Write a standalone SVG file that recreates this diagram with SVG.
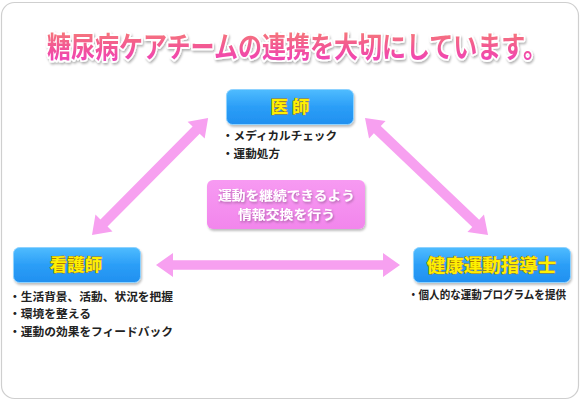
<svg xmlns="http://www.w3.org/2000/svg" width="581" height="402" viewBox="0 0 581 402">
<defs>
<linearGradient id="titleGrad" x1="0" y1="0" x2="0" y2="1">
<stop offset="0" stop-color="#f7866e"/>
<stop offset="0.55" stop-color="#f25596"/>
<stop offset="1" stop-color="#f03cc8"/>
</linearGradient>
<linearGradient id="blueGrad" x1="0" y1="0" x2="0" y2="1">
<stop offset="0" stop-color="#4fbcff"/>
<stop offset="0.5" stop-color="#2b9ef7"/>
<stop offset="1" stop-color="#2190f0"/>
</linearGradient>
<linearGradient id="pinkGrad" x1="0" y1="0" x2="0" y2="1">
<stop offset="0" stop-color="#f79af2"/>
<stop offset="1" stop-color="#f286ec"/>
</linearGradient>
<filter id="shadow" x="-10%" y="-10%" width="130%" height="140%">
<feDropShadow dx="1" dy="2" stdDeviation="1.2" flood-color="#000" flood-opacity="0.25"/>
</filter>
<filter id="tshadow" x="-5%" y="-20%" width="110%" height="160%">
<feDropShadow dx="1" dy="1.5" stdDeviation="1" flood-color="#000" flood-opacity="0.3"/>
</filter>
</defs>
<style>
.t{font-family:"Noto Sans CJK JP","Noto Sans CJK SC",sans-serif}
.title{font-size:23.2px;font-weight:700;fill:url(#titleGrad);stroke:#fff;stroke-width:3;paint-order:stroke;stroke-linejoin:round}
.bluebox{fill:url(#blueGrad);stroke:#8ed2ff;stroke-width:1}
.role{font-weight:700;fill:#fff000;stroke:#b07800;stroke-width:0.8;paint-order:stroke;text-anchor:middle}
.bul{font-size:11.6px;font-weight:700;fill:#222}
.mid{font-size:12.8px;font-weight:700;fill:#fff;text-anchor:middle}
.arrow{fill:#f7a0f0}
</style>
<rect x="1.5" y="2.5" width="577" height="396" rx="13" fill="#fff" stroke="#cfcfcf" stroke-width="1.2"/>
<g id="title">
<text class="t title" transform="translate(47,58) scale(1,1.25)" x="0" y="0" textLength="500" lengthAdjust="spacingAndGlyphs" filter="url(#tshadow)">糖尿病ケアチームの連携を大切にしています。</text>
</g>
<g id="connectors">
<polygon class="arrow" transform="translate(156,265)" points="0,0 17,-12 17,-4.7 227,-4.7 227,-12 244,0 227,12 227,4.7 17,4.7 17,12"/>
<polygon class="arrow" transform="translate(92,235) rotate(-45.2)" points="0,0 17,-12 17,-5 147.8,-5 147.8,-12 164.8,0 147.8,12 147.8,5 17,5 17,12"/>
<polygon class="arrow" transform="translate(365,118) rotate(43.57)" points="0,0 17,-12 17,-5 152.8,-5 152.8,-12 169.8,0 152.8,12 152.8,5 17,5 17,12"/>
</g>
<g id="doctor">
<rect class="bluebox" x="226.5" y="89.5" width="127" height="35" rx="6" filter="url(#shadow)"/>
<text class="t role" x="290" y="113" font-size="17.5">医 師</text>
<text class="t bul" x="222" y="140" textLength="115" lengthAdjust="spacingAndGlyphs">・メディカルチェック</text>
<text class="t bul" x="222" y="158" textLength="58" lengthAdjust="spacingAndGlyphs">・運動処方</text>
</g>
<g id="exchange">
<rect x="207" y="180" width="158" height="49" rx="6" fill="url(#pinkGrad)" filter="url(#shadow)"/>
<text class="t mid" x="286.5" y="200" textLength="137" lengthAdjust="spacingAndGlyphs" filter="url(#tshadow)">運動を継続できるよう</text>
<text class="t mid" x="286.5" y="218.5" textLength="97" lengthAdjust="spacingAndGlyphs" filter="url(#tshadow)">情報交換を行う</text>
</g>
<g id="nurse">
<rect class="bluebox" x="13.5" y="247.5" width="127" height="35" rx="6" filter="url(#shadow)"/>
<text class="t role" x="76" y="271" font-size="17.5">看護師</text>
<text class="t bul" x="9" y="301" textLength="164" lengthAdjust="spacingAndGlyphs">・生活背景、活動、状況を把握</text>
<text class="t bul" x="9" y="318" textLength="82" lengthAdjust="spacingAndGlyphs">・環境を整える</text>
<text class="t bul" x="9" y="336" textLength="164" lengthAdjust="spacingAndGlyphs">・運動の効果をフィードバック</text>
</g>
<g id="trainer">
<rect class="bluebox" x="413.5" y="247.5" width="157" height="35" rx="6" filter="url(#shadow)"/>
<text class="t role" x="491.5" y="272" font-size="18.5">健康運動指導士</text>
<text class="t bul" x="408" y="299" font-size="10.5" textLength="158" lengthAdjust="spacingAndGlyphs">・個人的な運動プログラムを提供</text>
</g>
</svg>
